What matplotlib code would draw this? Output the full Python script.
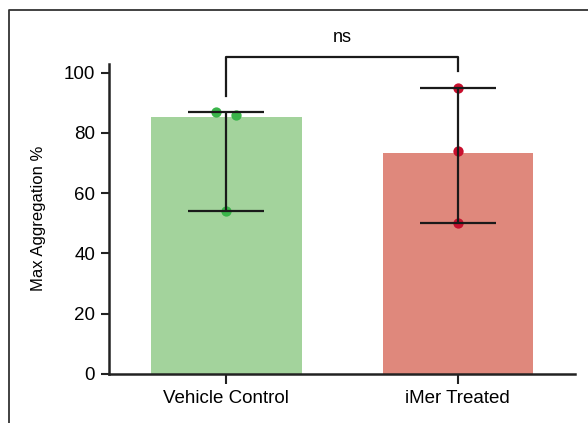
import matplotlib
matplotlib.use("Agg")
import matplotlib.pyplot as plt
from matplotlib.lines import Line2D
import numpy as np

plt.rcParams.update({
    "font.family": ["Liberation Sans", "DejaVu Sans"],
    "font.size": 13,
})

groups = ["Vehicle Control", "iMer Treated"]
bar_values = [85.3, 73.3]
points = [[87.0, 85.9, 53.9], [95.0, 74.0, 50.0]]
jitter = [[-0.046, 0.043, 0.0], [0.0, 0.0, 0.0]]
bar_colors = ["#a3d39c", "#df887c"]
dot_colors = ["#3ab54a", "#c8102e"]
yticks = [0, 20, 40, 60, 80, 100]
sig_label = "ns"

fig = plt.figure(figsize=(5.88, 4.23), dpi=100)
ax = fig.add_axes([0.1854, 0.1165, 0.7925, 0.733])

x = np.arange(len(groups))
ax.bar(x, bar_values, width=0.65, color=bar_colors, zorder=1)

cap = 0.165
for i, pts in enumerate(points):
    ax.scatter(x[i] + np.array(jitter[i]), pts, s=55, color=dot_colors[i],
               zorder=3, linewidths=0)
    lo, hi = min(pts), max(pts)
    ax.vlines(x[i], lo, hi, color="#1a1a1a", lw=1.6, zorder=4)
    ax.hlines([lo, hi], x[i] - cap, x[i] + cap, color="#1a1a1a", lw=1.6, zorder=4)

# significance bracket
ax.plot([x[0], x[0], x[1], x[1]], [92.2, 105.3, 105.3, 100.6],
        color="#1a1a1a", lw=1.6, clip_on=False)
ax.text((x[0] + x[1]) / 2, 109, sig_label, ha="center", va="bottom", fontsize=13)

ax.set_xlim(-0.507, 1.507)
ax.set_ylim(0, 103)
ax.set_yticks(yticks)
ax.set_xticks(x)
ax.set_xticklabels(groups)
ax.tick_params(axis="both", labelsize=13.5, width=1.5, color="#222222")
ax.tick_params(axis="y", length=6, pad=4)
ax.tick_params(axis="x", length=7, pad=5)
for s in ["top", "right"]:
    ax.spines[s].set_visible(False)
for s in ["left", "bottom"]:
    ax.spines[s].set_linewidth(1.8)
    ax.spines[s].set_color("#222222")

ax.set_ylabel("Max Aggregation %", fontsize=12, labelpad=13)

# outer panel frame
fx = 9 / 588
fy = 1 - 10 / 423
fig.add_artist(Line2D([fx, fx, 1], [0, fy, fy], transform=fig.transFigure,
                      color="#333333", lw=1.3))

fig.savefig("out.png", dpi=100)
